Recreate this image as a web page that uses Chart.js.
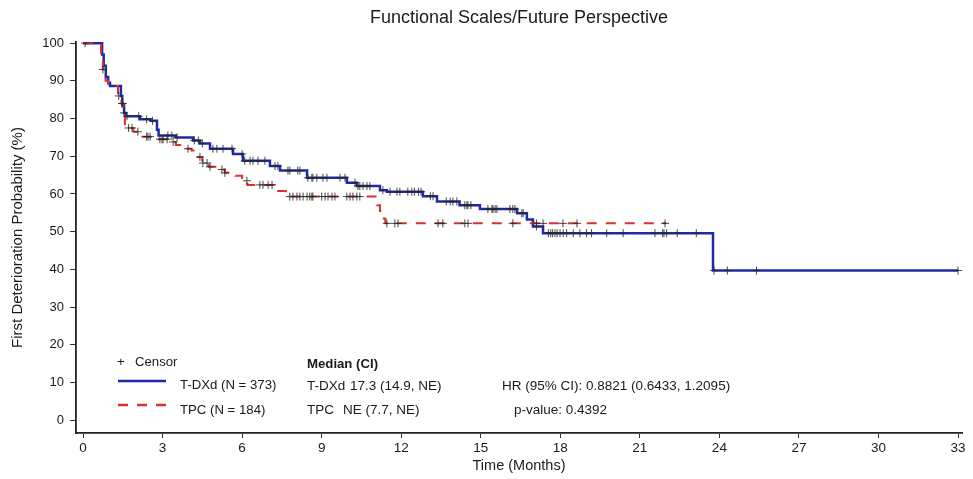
<!DOCTYPE html>
<html>
<head>
<meta charset="utf-8">
<script src="https://cdn.jsdelivr.net/npm/chart.js@4.4.1/dist/chart.umd.min.js"></script>
<style>
  html, body { margin: 0; padding: 0; background: #fff; }
  #wrap { width: 973px; height: 479px; }
</style>
</head>
<body>
<div id="wrap"><canvas id="km" width="973" height="479"></canvas></div>
<script>
// Axis ticks
const xTicks = [0, 3, 6, 9, 12, 15, 18, 21, 24, 27, 30, 33];
const yTicks = [0, 10, 20, 30, 40, 50, 60, 70, 80, 90, 100];

// Kaplan-Meier steps: time (months) where the estimate changes, and the estimate (%) from then on
const tdxdTime = [0, 0.72, 0.78, 0.86, 0.95, 1.02, 1.43, 1.48, 1.55, 1.62, 2.15, 2.55, 2.79, 2.85, 3.5, 4.15, 4.41, 4.79, 5.66, 6.03, 7.05, 7.43, 8.45, 9.95, 10.33, 11.2, 11.46, 12.82, 13.35, 14.2, 14.97, 16.37, 16.74, 16.97, 17.35, 23.76, 33.0];
const tdxdSurv = [100, 97, 94, 91, 89.5, 88.6, 86, 83.5, 81.5, 80.6, 79.8, 79.4, 77, 75.5, 75.0, 74.2, 73.4, 72.0, 70.6, 68.8, 67.4, 66.2, 64.3, 63.0, 62.1, 61.0, 60.6, 59.4, 58.0, 57.0, 56.0, 54.9, 53.2, 51.4, 49.6, 39.7, 39.7];

const tpcTime = [0, 0.68, 0.75, 0.85, 0.95, 1.32, 1.45, 1.52, 1.58, 1.7, 1.9, 2.2, 2.6, 3.2, 3.5, 3.85, 4.1, 4.3, 4.5, 4.75, 5.1, 5.35, 5.75, 6.0, 6.2, 7.2, 7.65, 11.1, 11.2, 11.3, 11.4, 22.0];
const tpcSurv = [100, 97, 93, 90, 88.6, 86, 84, 81, 78.5, 77.5, 76.5, 75.2, 74.5, 73.8, 73.0, 72.0, 71.5, 69.8, 68.2, 67.2, 66.5, 65.6, 64.8, 63.5, 62.4, 60.8, 59.3, 57.0, 55.5, 53.5, 52.2, 52.2];

// Censoring times (months)
const tdxdCensor = [1.55, 1.66, 2.1, 2.4, 2.62, 3.2, 3.35, 3.55, 4.2, 4.35, 4.5, 4.9, 5.05, 5.28, 5.62, 6.0, 6.1, 6.3, 6.41, 6.6, 6.86, 7.24, 7.35, 7.73, 7.8, 8.1, 8.18, 8.48, 8.63, 8.67, 8.82, 9.05, 9.2, 9.69, 9.88, 10.26, 10.37, 10.44, 10.56, 10.71, 10.82, 11.31, 11.58, 11.84, 11.95, 12.25, 12.4, 12.5, 12.65, 12.75, 13.1, 13.2, 13.7, 13.85, 13.95, 14.1, 14.4, 14.48, 14.52, 14.63, 15.27, 15.42, 15.46, 15.54, 15.61, 16.1, 16.21, 16.29, 16.55, 16.6, 17.1, 17.55, 17.64, 17.71, 17.8, 17.88, 17.99, 18.11, 18.24, 18.49, 18.74, 18.99, 19.18, 19.75, 20.37, 21.57, 21.86, 21.91, 22.01, 22.41, 23.13, 23.8, 24.3, 25.4, 33.0];
const tpcCensor = [0.08, 0.75, 1.35, 1.47, 1.5, 1.72, 1.85, 2.07, 2.4, 2.45, 2.53, 2.9, 2.98, 3.02, 3.17, 3.4, 3.96, 4.41, 4.52, 4.68, 4.79, 5.24, 5.35, 6.18, 6.67, 6.79, 6.98, 7.13, 7.8, 7.92, 8.07, 8.18, 8.3, 8.45, 8.55, 8.63, 8.67, 9.0, 9.13, 9.24, 9.39, 9.5, 9.95, 10.07, 10.18, 10.33, 10.44, 11.46, 11.76, 11.88, 13.39, 13.57, 14.4, 14.52, 16.21, 17.1, 17.35, 18.1, 18.63, 21.95];

// Text blocks
const titleText = 'Functional Scales/Future Perspective';
const xTitle = 'Time (Months)';
const yTitle = 'First Deterioration Probability (%)';
const legendLabels = ['Censor', 'T-DXd (N = 373)', 'TPC (N = 184)'];
const medianHeader = 'Median (CI)';
const medianRows = [['T-DXd', '17.3 (14.9, NE)'], ['TPC', 'NE (7.7, NE)']];
const hrText = 'HR (95% CI): 0.8821 (0.6433, 1.2095)';
const pText = 'p-value: 0.4392';

const BLUE = '#1f2aa6';
const RED = '#d8322e';
const FONT = '"Liberation Sans", Arial, Helvetica, sans-serif';

function toPoints(times, surv) {
  return times.map((t, i) => ({ x: t, y: surv[i] }));
}
// Value of a step curve at time t
function valueAt(times, surv, t) {
  let v = surv[0];
  for (let i = 0; i < times.length; i++) {
    if (times[i] <= t) v = surv[i]; else break;
  }
  return v;
}
function censorPoints(cTimes, times, surv) {
  return cTimes.map(t => ({ x: t, y: valueAt(times, surv, t) }));
}

const annotations = {
  id: 'annotations',
  afterDraw(chart) {
    const ctx = chart.ctx;
    ctx.save();
    ctx.fillStyle = '#1a1a1a';
    ctx.textBaseline = 'middle';

    // Title
    ctx.font = '18px ' + FONT;
    ctx.textAlign = 'center';
    ctx.fillText(titleText, 519, 18);

    // Legend
    ctx.textAlign = 'left';
    ctx.font = '13.2px ' + FONT;
    ctx.fillText('+', 117, 362);
    ctx.fillText(legendLabels[0], 135, 362);

    ctx.strokeStyle = BLUE;
    ctx.lineWidth = 2.5;
    ctx.beginPath();
    ctx.moveTo(118, 381);
    ctx.lineTo(166, 381);
    ctx.stroke();
    ctx.fillText(legendLabels[1], 180, 385);

    ctx.strokeStyle = RED;
    ctx.lineWidth = 2.5;
    ctx.setLineDash([10, 9]);
    ctx.beginPath();
    ctx.moveTo(118, 405);
    ctx.lineTo(167, 405);
    ctx.stroke();
    ctx.setLineDash([]);
    ctx.fillText(legendLabels[2], 180, 410);

    // Median summary
    ctx.font = 'bold 13.2px ' + FONT;
    ctx.fillText(medianHeader, 307, 364);
    ctx.font = '13.5px ' + FONT;
    ctx.fillText(medianRows[0][0], 307, 386);
    ctx.fillText(medianRows[0][1], 350, 386);
    ctx.fillText(medianRows[1][0], 307, 410);
    ctx.fillText(medianRows[1][1], 343, 410);

    // Hazard ratio
    ctx.fillText(hrText, 502, 386);
    ctx.fillText(pText, 514, 410);
    ctx.restore();
  }
};

new Chart(document.getElementById('km'), {
  type: 'line',
  data: {
    datasets: [
      {
        label: 'Censor T-DXd',
        type: 'scatter',
        data: censorPoints(tdxdCensor, tdxdTime, tdxdSurv),
        pointStyle: 'cross',
        pointRadius: 4,
        borderColor: 'rgba(40,40,40,0.85)',
        borderWidth: 1,
        showLine: false,
        order: 0
      },
      {
        label: 'Censor TPC',
        type: 'scatter',
        data: censorPoints(tpcCensor, tpcTime, tpcSurv),
        pointStyle: 'cross',
        pointRadius: 4,
        borderColor: 'rgba(40,40,40,0.85)',
        borderWidth: 1,
        showLine: false,
        order: 0
      },
      {
        label: 'TPC',
        data: toPoints(tpcTime, tpcSurv),
        borderColor: RED,
        borderWidth: 2,
        borderDash: [10, 9],
        stepped: 'before',
        pointRadius: 0,
        fill: false,
        order: 1
      },
      {
        label: 'T-DXd',
        data: toPoints(tdxdTime, tdxdSurv),
        borderColor: BLUE,
        borderWidth: 2.5,
        stepped: 'before',
        pointRadius: 0,
        fill: false,
        order: 2
      }
    ]
  },
  options: {
    responsive: false,
    animation: false,
    layout: { padding: { top: 42, right: 11, left: 0, bottom: 0 } },
    plugins: {
      legend: { display: false },
      tooltip: { enabled: false },
      title: { display: false }
    },
    scales: {
      x: {
        type: 'linear',
        min: -0.264,
        max: 33.15,
        afterBuildTicks: s => { s.ticks = xTicks.map(v => ({ value: v })); },
        afterFit: s => { s.height = 46; },
        ticks: {
          color: '#1a1a1a',
          font: { family: FONT, size: 13.5 },
          padding: 2,
          maxRotation: 0,
          autoSkip: false
        },
        grid: { drawOnChartArea: false, drawTicks: true, tickLength: 5, color: '#333', lineWidth: 1 },
        border: { display: true, color: '#222', width: 1.8 },
        title: { display: true, text: xTitle, color: '#1a1a1a', font: { family: FONT, size: 14.5 }, padding: { top: 0, bottom: 4 } }
      },
      y: {
        type: 'linear',
        min: -3.4,
        max: 100.3,
        afterBuildTicks: s => { s.ticks = yTicks.map(v => ({ value: v })); },
        afterFit: s => { s.width = 76; },
        ticks: {
          color: '#1a1a1a',
          font: { family: FONT, size: 13 },
          padding: 6,
          autoSkip: false
        },
        grid: { drawOnChartArea: false, drawTicks: true, tickLength: 6, color: '#333', lineWidth: 1 },
        border: { display: true, color: '#222', width: 1.8 },
        title: { display: true, text: yTitle, color: '#1a1a1a', font: { family: FONT, size: 15 }, padding: { top: 9, bottom: 0 } }
      }
    }
  },
  plugins: [annotations]
});
</script>
</body>
</html>
